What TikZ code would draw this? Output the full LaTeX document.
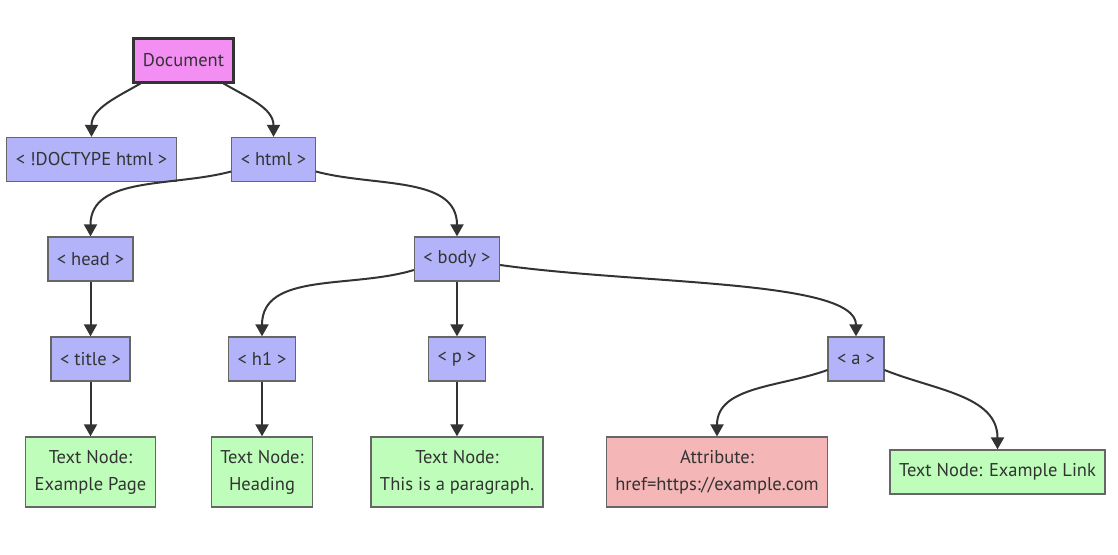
\documentclass[tikz,border=0pt]{standalone}
\usepackage{fontspec}
\setmainfont{PT Sans}
\usetikzlibrary{arrows.meta}

\definecolor{ink}{RGB}{51,51,51}
\definecolor{rim}{RGB}{102,102,102}
\definecolor{doc violet}{RGB}{243,143,243}
\definecolor{tag blue}{RGB}{179,179,250}
\definecolor{text green}{RGB}{190,253,186}
\definecolor{attr red}{RGB}{244,182,182}

\tikzstyle{box}=[draw=rim, line width=1.3pt, text=ink, inner xsep=9pt, inner ysep=13pt, minimum height=44pt, align=center, font=\fontsize{18.5}{27}\selectfont]
\tikzstyle{doc box}=[box, fill=doc violet, draw=ink, line width=3pt]
\tikzstyle{tag box}=[box, fill=tag blue]
\tikzstyle{text box}=[box, fill=text green]
\tikzstyle{attr box}=[box, fill=attr red]
\tikzstyle{branch}=[draw=ink, line width=2pt, -{Triangle[length=12pt,width=13pt]}]

\begin{document}
\begin{tikzpicture}[x=1pt, y=-1pt]
					\useasboundingbox (0,0) rectangle (1118,554);

					% Document and html tags
					\node[doc box] (doc) at (183.5, 60) {Document};
					\node[tag box] (doctype) at (91.5,159.5) {< !DOCTYPE html >};
					\node[tag box] (html) at (273.5,159.5) {< html >};
					\node[tag box] (head) at (90.5, 259) {< head >};
					\node[tag box] (body) at (457, 259) {< body >};
					\node[tag box] (title) at (90.5, 359) {< title >};
					\node[tag box] (h1) at (262, 359) {< h1 >};
					\node[tag box] (p) at (457, 359) {< p >};
					\node[tag box] (atag) at (856, 359) {< a >};

					% Leaves
					\node[text box] (titletext) at (90.5, 472) {Text Node:\\Example Page};
					\node[text box] (h1text) at (262, 472) {Text Node:\\Heading};
					\node[text box] (ptext) at (457, 472) {Text Node:\\This is a paragraph.};
					\node[attr box] (href) at (717, 472) {Attribute:\\href=https://example.com};
					\node[text box] (atext) at (997.5, 472) {Text Node: Example Link};

					% Branches
					\draw[branch] ([xshift=8pt]doc.south west) to[out=-150, in=90] (doctype.north);
					\draw[branch] ([xshift=-11pt]doc.south east) to[out=-30, in=90] (html.north);
					\draw[branch] ([yshift=-12pt]html.west) to[out=-165, in=90] (head.north);
					\draw[branch] ([yshift=-12pt]html.east) to[out=-15, in=90] (body.north);
					\draw[branch] ([yshift=-11pt]body.west) to[out=-163, in=90] (h1.north);
					\draw[branch] ([yshift=-6pt]body.east) to[out=-8, in=90, in looseness=0.4] (atag.north);
					\draw[branch] ([yshift=-11pt]atag.west) to[out=-160, in=90] (href.north);
					\draw[branch] ([yshift=-11pt]atag.east) to[out=-22, in=90] (atext.north);
					\foreach \from/\to in {head/title, title/titletext, body/p, p/ptext, h1/h1text}{ \draw[branch] (\from) -- (\to); }
				\end{tikzpicture}
\end{document}
